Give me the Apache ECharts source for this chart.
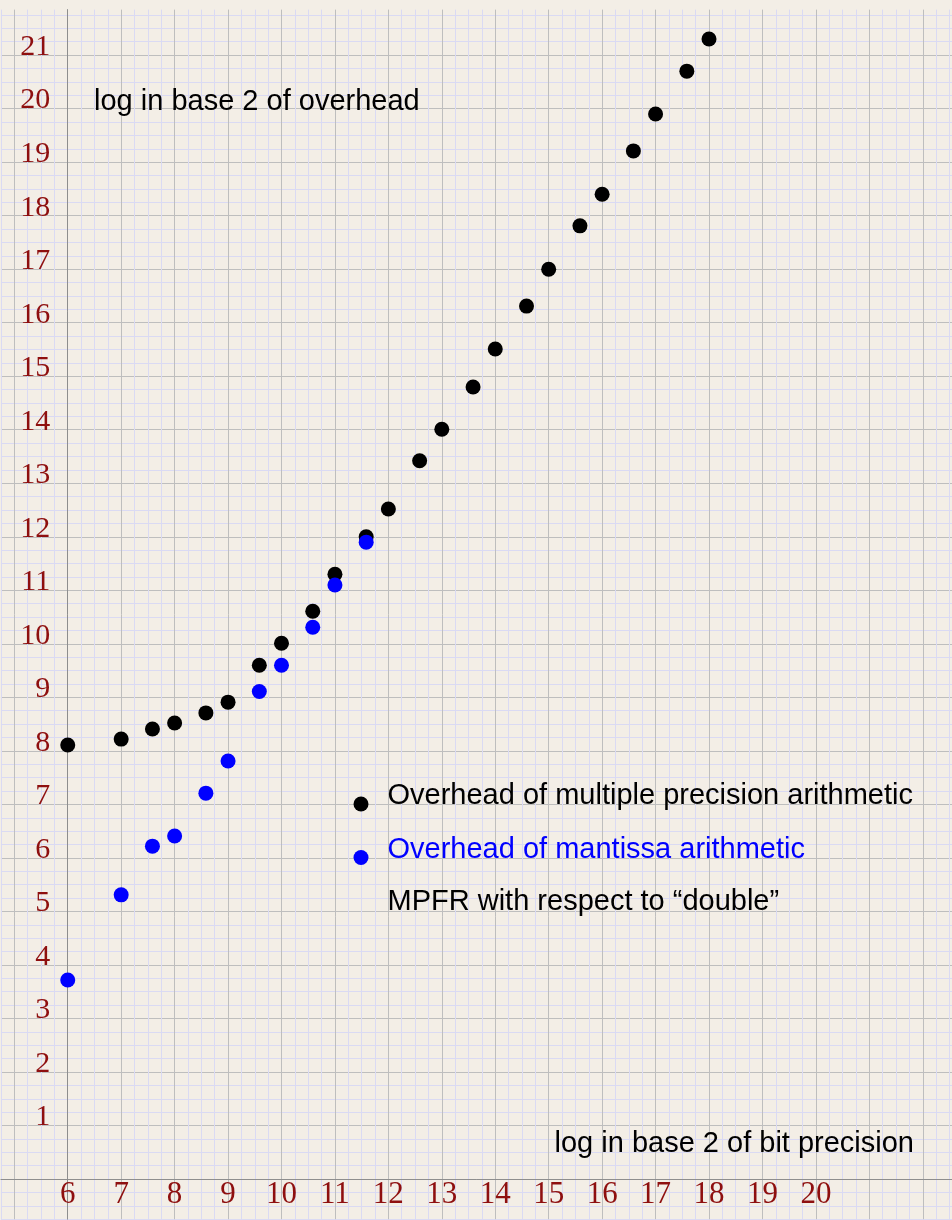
<!DOCTYPE html>
<html>
<head>
<meta charset="utf-8">
<script src="https://cdn.jsdelivr.net/npm/echarts@6/dist/echarts.min.js"></script>
<style>
  html, body { margin: 0; padding: 0; background: #f3eee6; }
  #chart { width: 952px; height: 1220px; }
</style>
</head>
<body>
<div id="chart"></div>
<script>
// log2 of bit precision
const precision = [6, 7, 7.585, 8, 8.585, 9, 9.585, 10, 10.585, 11, 11.585, 12,
  12.585, 13, 13.585, 14, 14.585, 15, 15.585, 16, 16.585, 17, 17.585, 18]
// log2 of overhead, multiple precision arithmetic (black)
const overheadMP = [8.11, 8.22, 8.41, 8.52, 8.71, 8.91, 9.60, 10.01, 10.61, 11.30, 12.00, 12.52,
  13.42, 14.01, 14.80, 15.51, 16.31, 17.00, 17.81, 18.40, 19.21, 19.90, 20.70, 21.30]
// log2 of overhead, mantissa arithmetic (blue), first 11 precisions
const precisionMant = [6, 7, 7.585, 8, 8.585, 9, 9.585, 10, 10.585, 11, 11.585]
const overheadMant = [3.72, 5.31, 6.22, 6.41, 7.21, 7.81, 9.11, 9.60, 10.31, 11.10, 11.90]

const xTicks = [6, 7, 8, 9, 10, 11, 12, 13, 14, 15, 16, 17, 18, 19, 20]
const yTicks = [1, 2, 3, 4, 5, 6, 7, 8, 9, 10, 11, 12, 13, 14, 15, 16, 17, 18, 19, 20, 21]

const nameMP = 'Overhead of multiple precision arithmetic'
const nameMant = 'Overhead of mantissa arithmetic'

const minor = '#dadaf3'
const major = '#bebebe'
const axisCol = '#8e8e8e'
const red = '#8e0f0f'
const sans = '"Liberation Sans", Arial, sans-serif'
const serif = '"Liberation Serif", "Times New Roman", serif'

const isTick = (list, v) => list.some(t => Math.abs(t - v) < 1e-6)

// plain text on the paper
const textStyle = { fontFamily: sans, fontSize: 29, fontWeight: 'normal', color: '#000', lineHeight: 29 }

// dot sitting low in its box, so it lines up with the text baseline
const legendDot = 'path://M0,0M0,23.5A7.5,7.5,0,1,1,15,23.5A7.5,7.5,0,1,1,0,23.5Z'

const myChart = echarts.init(document.getElementById('chart'))
myChart.setOption({
  animation: false,
  backgroundColor: '#f3eee6',
  title: [
    { text: 'log in base 2 of overhead', left: 94, top: 87, padding: 0, textStyle },
    { text: 'log in base 2 of bit precision', right: 38, top: 1129.5, padding: 0, textStyle },
    { text: 'MPFR with respect to \u201cdouble\u201d', left: 387.5, top: 887.5, padding: 0, textStyle }
  ],
  grid: {
    left: 0.94,
    top: 9.6,
    width: 961.9,
    height: 1209.6,
    outerBoundsMode: 'none'
  },
  xAxis: {
    type: 'value',
    position: 'bottom',
    offset: -40.2,
    min: 4.75,
    max: 22.75,
    interval: 0.25,
    axisLine: { show: true, onZero: false, lineStyle: { color: axisCol, width: 1 } },
    axisTick: { show: false },
    axisLabel: {
      interval: 0,
      margin: 1,
      fontFamily: serif,
      fontSize: 31,
      lineHeight: 30,
      color: red,
      formatter: v => (isTick(xTicks, v) ? String(Math.round(v)) : '')
    },
    splitLine: {
      show: true,
      showMaxLine: false,
      lineStyle: { color: [minor, major, minor, minor], width: 1 }
    }
  },
  yAxis: {
    type: 'value',
    min: -0.75,
    max: 21.85,
    interval: 0.25,
    offset: -66.8,
    axisLine: { show: true, onZero: false, lineStyle: { color: axisCol, width: 1 } },
    axisTick: { show: false },
    axisLabel: {
      interval: 0,
      margin: 17.5,
      fontFamily: serif,
      fontSize: 30,
      lineHeight: 16,
      verticalAlign: 'bottom',
      color: red,
      formatter: v => (isTick(yTicks, v) ? String(Math.round(v)) : '')
    },
    splitLine: {
      show: true,
      showMaxLine: false,
      lineStyle: { color: [minor, minor, minor, major], width: 1 }
    }
  },
  legend: {
    orient: 'vertical',
    left: 353.5,
    top: 780.5,
    padding: 0,
    itemGap: 22.5,
    itemWidth: 15,
    itemHeight: 31,
    icon: legendDot,
    selectedMode: false,
    textStyle: {
      fontFamily: sans,
      fontSize: 29,
      lineHeight: 29,
      padding: [0, 0, 0, 14]
    },
    data: [
      { name: nameMP, textStyle: { color: '#000' } },
      { name: nameMant, textStyle: { color: '#0000ff' } }
    ]
  },
  series: [
    {
      name: nameMP,
      type: 'scatter',
      symbolSize: 15,
      itemStyle: { color: '#000', opacity: 1 },
      emphasis: { disabled: true },
      data: precision.map((x, i) => [x, overheadMP[i]])
    },
    {
      name: nameMant,
      type: 'scatter',
      symbolSize: 15,
      itemStyle: { color: '#0000ff', opacity: 1 },
      emphasis: { disabled: true },
      data: precisionMant.map((x, i) => [x, overheadMant[i]])
    }
  ]
})
</script>
</body>
</html>
